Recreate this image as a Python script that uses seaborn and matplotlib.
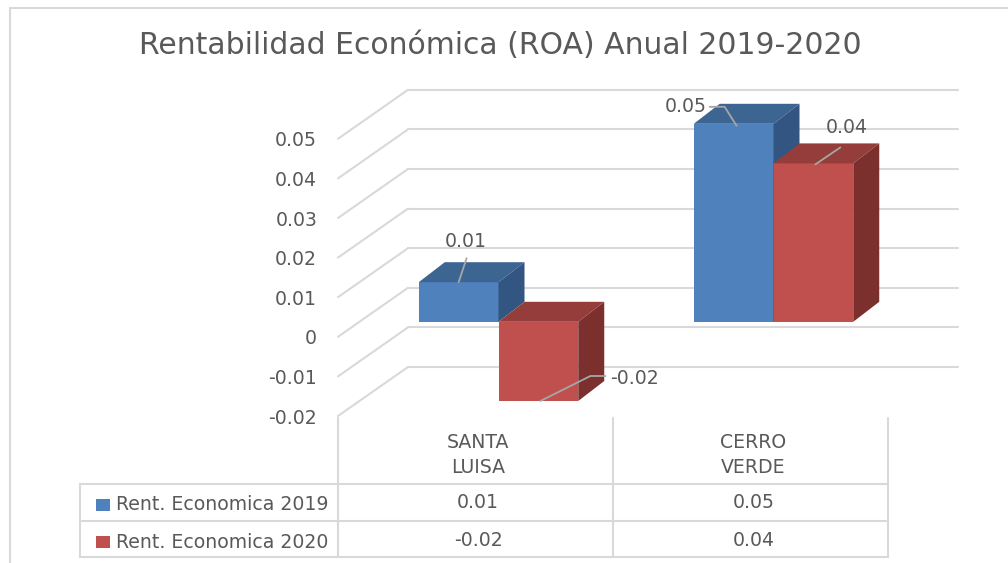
import numpy as np
import pandas as pd
import matplotlib
matplotlib.use('Agg')
import matplotlib.pyplot as plt
from matplotlib.patches import Polygon, Rectangle
from matplotlib.lines import Line2D
from matplotlib.transforms import blended_transform_factory
import seaborn as sns

# ─────────────────────────────────────────────
# Data
# ─────────────────────────────────────────────
empresas = ["SANTA\nLUISA", "CERRO\nVERDE"]
series = ["Rent. Economica 2019", "Rent. Economica 2020"]
roa_2019 = [0.01, 0.05]
roa_2020 = [-0.02, 0.04]
y_ticks = [-0.02, -0.01, 0, 0.01, 0.02, 0.03, 0.04, 0.05]
y_tick_labels = ["-0.02", "-0.01", "0", "0.01", "0.02", "0.03", "0.04", "0.05"]
title = "Rentabilidad Económica (ROA) Anual 2019-2020"

# ─────────────────────────────────────────────
# Style
# ─────────────────────────────────────────────
FRONT = ["#4F81BD", "#C0504D"]
TOP   = ["#3D6592", "#943D3A"]
SIDE  = ["#335581", "#7C302E"]
GRID   = "#D9D9D9"
TEXT   = "#595959"
LEADER = "#A6A6A6"
FS = 13.6

W, H = 1008, 563
WALL = (70, 49)          # depth of the 3D box, in pixels (right, up)
BAR_OFF = (23, 15)       # front face of the bars inside the box
BAR_DEPTH = (26, 20)     # depth of each bar

sns.set_style("white")
plt.rcParams['font.family'] = ['DejaVu Sans']

fig = plt.figure(figsize=(W / 100, H / 100), dpi=100)
ax = fig.add_axes([338 / W, (H - 416) / H, 550 / W, 316.8 / H])

df = pd.DataFrame({
    "empresa": empresas * 2,
    "serie": [series[0]] * len(empresas) + [series[1]] * len(empresas),
    "roa": roa_2019 + roa_2020,
})
sns.barplot(data=df, x="empresa", y="roa", hue="serie", palette=FRONT,
            saturation=1, width=0.58, dodge=True, errorbar=None,
            legend=False, ax=ax)
ax.set_xlim(-0.5, len(empresas) - 0.5)
ax.set_ylim(-0.02, 0.06)

# pixels per data unit
ppx = 550 / (len(empresas))
ppy = 316.8 / 0.08


def px(dx, dy):
    return dx / ppx, dy / ppy


wx, wy = px(*WALL)
fx, fy = px(*BAR_OFF)
bx, by = px(*BAR_DEPTH)

# ─────────────────────────────────────────────
# Walls (back + left side)
# ─────────────────────────────────────────────
x_left, x_right = ax.get_xlim()
for v in y_ticks:
    ax.plot([x_left + wx, x_right + wx], [v + wy, v + wy], color=GRID,
             lw=1.5, clip_on=False, zorder=1)
    ax.plot([x_left, x_left + wx], [v, v + wy], color=GRID,
             lw=1.5, clip_on=False, zorder=1)

# ─────────────────────────────────────────────
# 3D bars
# ─────────────────────────────────────────────
values = roa_2019 + roa_2020
label_style = [
    dict(anchor="top", path=[(0, 0), (8, 24)], text=(7, 41), ha="center"),
    dict(anchor="top", path=[(3, -2), (-9, 17), (-24, 17)], text=(-27, 17), ha="right"),
    dict(anchor="bottom", path=[(2, 0), (52, 25), (67, 25)], text=(72, 23), ha="left"),
    dict(anchor="top", path=[(2, -1), (27, 16)], text=(33, 36), ha="center"),
]
n = len(empresas)
for k, p in enumerate(ax.patches):
    h = k // n
    x0, w = p.get_x() + fx, p.get_width()
    y0 = p.get_y() + fy
    y1 = y0 + p.get_height()
    top, bottom = max(y0, y1), min(y0, y1)
    p.set_x(x0)
    p.set_y(y0)
    p.set_clip_on(False)
    p.set_linewidth(0)
    p.set_zorder(3 + h)
    ax.add_patch(Polygon([(x0, top), (x0 + w, top), (x0 + w + bx, top + by),
                          (x0 + bx, top + by)], closed=True, facecolor=TOP[h],
                         lw=0, clip_on=False, zorder=3 + h))
    ax.add_patch(Polygon([(x0 + w, bottom), (x0 + w + bx, bottom + by),
                          (x0 + w + bx, top + by), (x0 + w, top)], closed=True,
                         facecolor=SIDE[h], lw=0, clip_on=False, zorder=3 + h))

    st = label_style[k]
    ax_x = x0 + w / 2
    ax_y = top if st["anchor"] == "top" else bottom
    pts = [(ax_x + px(dx, dy)[0], ax_y + px(dx, dy)[1]) for dx, dy in st["path"]]
    ax.plot([q[0] for q in pts], [q[1] for q in pts], color=LEADER, lw=1.3,
            clip_on=False, zorder=10)
    tx, ty = px(*st["text"])
    ax.text(ax_x + tx, ax_y + ty, f"{values[k]:.2f}", ha=st["ha"], va="center",
            fontsize=FS, color=TEXT, zorder=11)

# ─────────────────────────────────────────────
# Axes styling
# ─────────────────────────────────────────────
ax.set_yticks(y_ticks, y_tick_labels)
ax.set_xticks([])
ax.set_xlabel("")
ax.set_ylabel("")
ax.tick_params(axis="y", length=0, pad=15, labelsize=FS, labelcolor=TEXT)
sns.despine(ax=ax, left=True, bottom=True)

fig.text(500 / W, 1 - 46 / H, title, ha="center", va="center",
         fontsize=21.5, color=TEXT)

# ─────────────────────────────────────────────
# Data table
# ─────────────────────────────────────────────
def fy_(y):
    return 1 - y / H


tr = blended_transform_factory(ax.transData, fig.transFigure)
col_left = x_left - 258 / ppx
rows = [484, 521, 557]
for y in rows:
    fig.add_artist(Line2D([col_left, x_right], [fy_(y), fy_(y)], transform=tr,
                          color=GRID, lw=1.5))
fig.add_artist(Line2D([col_left, col_left], [fy_(484), fy_(557)], transform=tr,
                      color=GRID, lw=1.5))
for xb in np.arange(x_left, x_right + 0.01, 1.0):
    fig.add_artist(Line2D([xb, xb], [fy_(418), fy_(557)], transform=tr,
                          color=GRID, lw=1.5))

for i, name in enumerate(empresas):
    fig.text(i + 0.01, fy_(455), name, transform=tr, ha="center", va="center",
             fontsize=FS, color=TEXT, linespacing=1.45)
    fig.text(i + 0.01, fy_(503), f"{roa_2019[i]:.2f}", transform=tr,
             ha="center", va="center", fontsize=FS, color=TEXT)
    fig.text(i + 0.01, fy_(540), f"{roa_2020[i]:.2f}", transform=tr,
             ha="center", va="center", fontsize=FS, color=TEXT)

for j, (name, yc) in enumerate(zip(series, [505, 542])):
    fig.add_artist(Rectangle((96 / W, fy_(yc + 6)), 14 / W, 12 / H,
                             transform=fig.transFigure, facecolor=FRONT[j], lw=0))
    fig.text(116 / W, fy_(yc), name, ha="left", va="center",
             fontsize=FS, color=TEXT)

# outer chart border
fig.add_artist(Line2D([10 / W, 1], [fy_(8), fy_(8)], color=GRID, lw=1.5))
fig.add_artist(Line2D([10 / W, 10 / W], [0, fy_(8)], color=GRID, lw=1.5))

fig.savefig("out.png", dpi=100)
